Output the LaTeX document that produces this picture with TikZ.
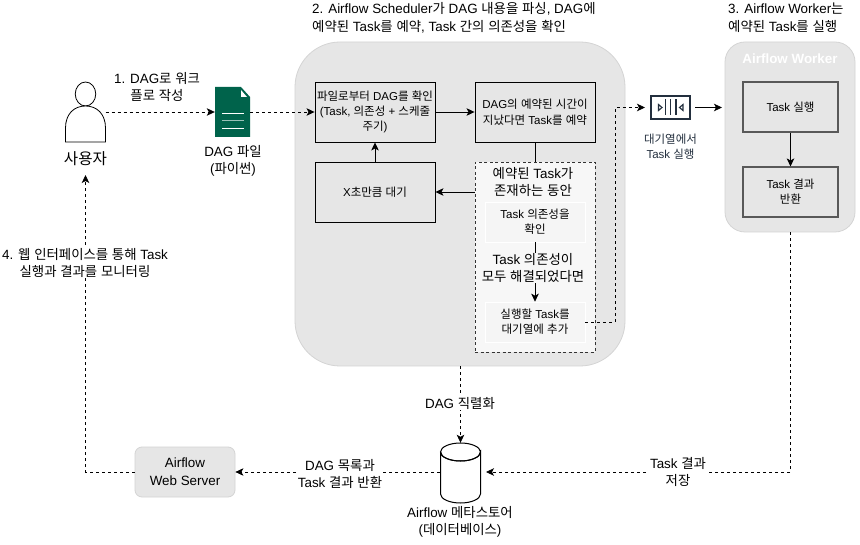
\documentclass[tikz,border=0pt]{standalone}
\usepackage{fontspec}
\usetikzlibrary{arrows.meta,shapes.geometric,calc}
\setmainfont{Liberation Sans}
\newfontfamily\krfont{Noto Sans CJK KR}
\XeTeXinterchartokenstate=1
\newXeTeXintercharclass\krcl
\count255="AC00
\loop \XeTeXcharclass\count255=\krcl \ifnum\count255<"D7A3 \advance\count255 by 1 \repeat
\XeTeXinterchartoks 0 \krcl={\begingroup\krfont}
\XeTeXinterchartoks 4095 \krcl={\begingroup\krfont}
\XeTeXinterchartoks \krcl 0={\endgroup}
\XeTeXinterchartoks \krcl 4095={\endgroup}
\definecolor{panel}{HTML}{E6E6E6}
\definecolor{panelline}{HTML}{D4D4D4}
\definecolor{inner}{HTML}{F5F5F5}
\definecolor{docgreen}{HTML}{00634B}
\definecolor{awsdark}{HTML}{232F3E}
\tikzset{
  x=1pt,y=-1pt,
  tip/.style={-{Stealth[length=8pt,width=7.5pt,inset=2pt]}},
  conn/.style={draw=black,line width=0.8pt,tip},
  plain/.style={draw=black,line width=0.8pt},
  dconn/.style={conn,dash pattern=on 3pt off 3pt},
  panelbox/.style={draw=panelline,fill=panel,line width=0.8pt},
  stepbox/.style={draw=black,line width=0.9pt,minimum width=120pt,minimum height=60pt,inner sep=0pt,align=center,font=\fontsize{11.5}{15}\selectfont,fill=panel},
  workbox/.style={draw=black!65,line width=1.1pt,minimum width=95pt,minimum height=50pt,inner sep=0pt,align=center,font=\fontsize{11.5}{15}\selectfont,fill=panel},
  innerbox/.style={draw=white,fill=inner,line width=0.6pt,minimum width=100pt,minimum height=40pt,inner sep=0pt,align=center,font=\fontsize{11.5}{15}\selectfont},
  lbl/.style={align=center,font=\fontsize{13.4}{16.5}\selectfont,inner sep=1pt},
  wlbl/.style={lbl,fill=white},
  toplbl/.style={align=left,font=\fontsize{13.4}{18}\selectfont,inner sep=0pt,anchor=west},
}
\begin{document}
\begin{tikzpicture}
\useasboundingbox (0,0) rectangle (860,545);
\fill[white] (0,0) rectangle (860,545);

% panels
\node[panelbox,rounded corners=45pt,minimum width=330pt,minimum height=324pt,inner sep=0pt] (sched) at (460,204) {};
\node[panelbox,rounded corners=20pt,minimum width=130pt,minimum height=190pt,inner sep=0pt] (worker) at (790,137) {};
\node[font=\bfseries\fontsize{13.4}{14}\selectfont,text=white,inner sep=0pt] (workertitle) at (790,59) {Airflow Worker};

% user
\node[draw=black,line width=0.8pt,ellipse,minimum width=20.5pt,minimum height=24pt,inner sep=0pt,fill=white] (head) at (85.5,94) {};
\coordinate (userport) at (105.5,112);
\node[minimum width=40pt,minimum height=60pt,inner sep=0pt] (user) at (85.5,112) {};
\draw[line width=0.8pt,fill=white] (65.5,142) -- (65.5,128) .. controls (65.5,114) and (74,106) .. (85.5,106) .. controls (97,106) and (105.5,114) .. (105.5,128) -- (105.5,142) -- cycle;
\node[font=\fontsize{15.6}{16}\selectfont,inner sep=0pt] (userlbl) at (85.5,159) {사용자};

% document
\node[minimum width=35pt,minimum height=50pt,inner sep=0pt] (doc) at (232.5,112) {};
\fill[docgreen] (215,87) -- (241,87) -- (250,97) -- (250,137) -- (215,137) -- cycle;
\fill[white] (241,90) -- (247,97) -- (241,97) -- cycle;
\draw[white,line width=0.8pt] (222,113) -- (244,113) (222,128.5) -- (244,128.5);
\draw[white!60!docgreen,line width=1.6pt] (222,120.7) -- (244,120.7);
\node[lbl] (doclbl) at (233,161) {DAG 파일\\(파이썬)};

% scheduler boxes
\node[stepbox] (scan) at (375,112) {파일로부터 DAG를 확인\\(Task, 의존성 + 스케줄\\주기)};
\node[stepbox,font=\fontsize{11.5}{16}\selectfont] (sch) at (535,112) {DAG의 예약된 시간이\\지났다면 Task를 예약};
\node[stepbox] (wait) at (375,192) {X초만큼 대기};
\node[draw=black!80,line width=0.6pt,dash pattern=on 3pt off 2.5pt,fill=white!97!black,minimum width=120pt,minimum height=190pt,inner sep=0pt] (loop) at (535,257) {};
\node[innerbox] (chk) at (535,222) {Task 의존성을\\확인};
\node[innerbox] (enq) at (535,322) {실행할 Task를\\대기열에 추가};

% queue icon
\node[draw=awsdark,line width=1.1pt,fill=white,minimum width=39pt,minimum height=23pt,inner sep=0pt] (queue) at (670.5,107.5) {};
\draw[awsdark,line width=1.1pt] (665.7,99.5) -- (665.7,115.5) (670.7,99.5) -- (670.7,115.5) (676,99.5) -- (676,115.5);
\draw[awsdark,line width=1.1pt] (658.5,104.5) -- (662,107.5) -- (658.5,110.5) -- cycle (683,104.5) -- (679.5,107.5) -- (683,110.5) -- cycle;
\node[font=\fontsize{11.5}{15}\selectfont,text=awsdark,align=center,inner sep=0pt] (queuelbl) at (670.5,147) {대기열에서\\Task 실행};
\coordinate (queuein) at (645,107.5);
\coordinate (queueout) at (695,107.5);
\coordinate (workerin) at (722,107.5);

% worker boxes
\node[workbox] (run) at (790.5,107) {Task 실행};
\node[workbox] (ret) at (790.5,192) {Task 결과\\반환};

% bottom
\node[panelbox,rounded corners=7pt,minimum width=100pt,minimum height=50pt,inner sep=0pt,align=center,font=\fontsize{13.4}{18}\selectfont] (web) at (185,472) {Airflow\\Web Server};
\node[minimum width=40pt,minimum height=60pt,inner sep=0pt] (db) at (460.5,473) {};
\draw[line width=1pt,fill=white] (440.5,452) -- (440.5,494) arc[start angle=180,end angle=360,x radius=20,y radius=-9] -- (480.5,452) arc[start angle=0,end angle=360,x radius=20,y radius=9];
\draw[line width=1pt] (440.5,452) arc[start angle=180,end angle=360,x radius=20,y radius=-9];
\coordinate (dbleft) at (440,472);
\coordinate (dbright) at (486,472);
\node[lbl] (dblbl) at (460,522) {Airflow 메타스토어\\(데이터베이스)};

% connectors
\draw[dconn] (userport) -- (doc.west);
\draw[dconn] (doc.east) -- (scan.west);
\draw[conn] (scan.east) -- (sch.west);
\draw[conn] (wait.north) -- (scan.south);
\draw[plain] (sch.south) -- (loop.north);
\draw[conn] (loop.west |- wait.east) -- (wait.east);
\draw[conn] (chk.south) -- (enq.north);
\coordinate (bend1) at (615,322);
\coordinate (bend2) at (615,107.5);
\draw[dconn] (enq.east) -- (bend1) -- (bend2) -- (queuein);
\draw[conn] (queueout) -- (workerin);
\draw[conn] (run.south) -- (ret.north);
\coordinate (bend3) at (790.5,472);
\draw[dconn] (worker.south -| bend3) -- (bend3) -- (dbright);
\draw[dconn] (sched.south -| db.north) -- (db.north);
\draw[dconn] (dbleft) -- (web.east);
\coordinate (bend4) at (85.5,472);
\draw[dconn] (web.west) -- (bend4) -- (85.5,175);

% labels on top
\node[lbl,fill=white!97!black] (deplbl) at (533,268) {Task 의존성이\\모두 해결되었다면};
\node[lbl,fill=none] (looplbl) at (533,182) {예약된 Task가\\존재하는 동안};
\node[lbl] (l1) at (157,87) {1. DAG로 워크\\플로 작성};
\node[toplbl] (l2) at (312,18) {2. Airflow Scheduler가 DAG 내용을 파싱, DAG에\\예약된 Task를 예약, Task 간의 의존성을 확인};
\node[toplbl] (l3) at (728,18) {3. Airflow Worker는\\예약된 Task를 실행};
\node[wlbl] (l4) at (85,263) {4. 웹 인터페이스를 통해 Task\\실행과 결과를 모니터링};
\node[wlbl] (lser) at (460,403) {DAG 직렬화};
\node[wlbl] (lres) at (340,474) {DAG 목록과\\Task 결과 반환};
\node[wlbl] (lsave) at (678,472) {Task 결과\\저장};
\end{tikzpicture}
\end{document}
